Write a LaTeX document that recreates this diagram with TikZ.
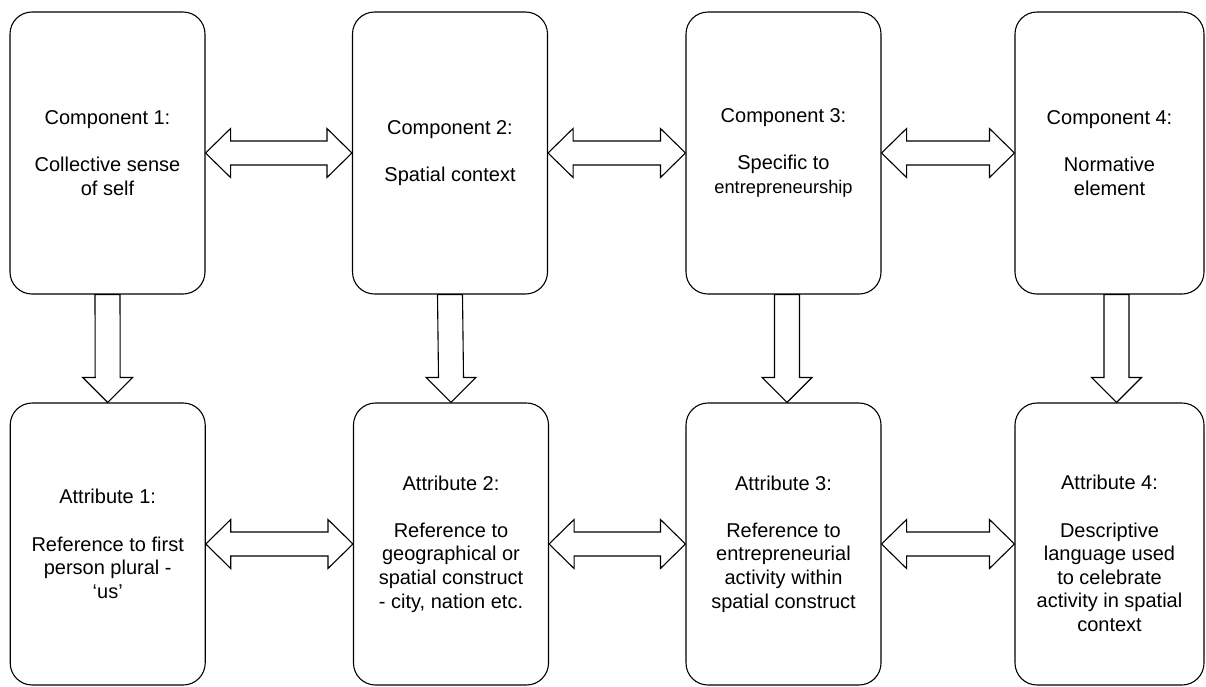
\documentclass[tikz,border=0pt]{standalone}
\usepackage{fontspec}
\setmainfont{Liberation Sans}
\usetikzlibrary{calc}
\tikzset{
  box/.style={draw=black, line width=1.1pt, rounded corners=22pt,
    minimum width=195pt, minimum height=282pt, inner sep=0pt,
    align=center, text=black, font=\fontsize{20}{23.6}\selectfont, fill=white},
  narrowbox/.style={box, minimum width=189pt},
  txtlabel/.style={align=center, text=black, font=\fontsize{20}{23.6}\selectfont, inner sep=0pt},
  bigarrow/.style={draw=black, line width=1.1pt, fill=white, line join=miter},
}
% horizontal double block arrow between two named nodes
\newcommand\hdarrow[2]{%
  \draw[bigarrow] (#1.east) -- ++(25,24.5) -- ++(0,-12.5)
    -- ($(#2.west)+(-25,12)$) -- ++(0,12.5) -- (#2.west)
    -- ++(-25,-24.5) -- ++(0,12.5)
    -- ($(#1.east)+(25,-12)$) -- ++(0,-12.5) -- cycle;}
% vertical block arrow from #1 down to #2, shifted by #3
\newcommand\vdarrow[3]{%
  \draw[bigarrow] ($(#1.south)+(#3-12.5,0)$) -- ($(#2.north)+(#3-12.5,25)$)
    -- ++(-12.5,0) -- ($(#2.north)+(#3,0)$) -- ($(#2.north)+(#3+25,25)$)
    -- ++(-12.5,0) -- ($(#1.south)+(#3+12.5,0)$) -- cycle;}
\begin{document}
\begin{tikzpicture}[x=1pt,y=1pt]
\useasboundingbox (0,0) rectangle (1206,-686);
\fill[white] (0,0) rectangle (1206,-686);

% components
\node[box] (c1) at (107.5,-153) {Component 1:\\[23.6pt]Collective sense\\of self};
\node[box] (c2) at (450,-153) {Component 2:\\[23.6pt]Spatial context};
\node[box] (c3) at (783.5,-153) {Component 3:\\[23.6pt]Specific to\\{\fontsize{18.3}{22}\selectfont entrepreneurship}};
\node[narrowbox] (c4) at (1109.5,-153) {Component 4:\\[23.6pt]Normative\\element};

% attributes
\node[box] (a1) at (107.7,-544) {Attribute 1:\\[23.6pt]Reference to first\\person plural -\\‘us’};
\node[box] (a2) at (451,-544) {Attribute 2:\\[23.6pt]Reference to\\geographical or\\spatial construct\\- city, nation etc.};
\node[box] (a3) at (783.5,-544) {Attribute 3:\\[23.6pt]Reference to\\entrepreneurial\\activity within\\spatial construct};
\node[narrowbox, label={[txtlabel, yshift=-9.5pt]center:{Attribute 4:\\[23.6pt]Descriptive\\language used\\to celebrate\\activity in spatial\\context}}] (a4) at (1109.5,-544) {};

% horizontal double arrows
\hdarrow{c1}{c2}
\hdarrow{c2}{c3}
\hdarrow{c3}{c4}
\hdarrow{a1}{a2}
\hdarrow{a2}{a3}
\hdarrow{a3}{a4}

% vertical arrows
\vdarrow{c1}{a1}{0}
\vdarrow{c2}{a2}{0}
\vdarrow{c3}{a3}{3.5}
\vdarrow{c4}{a4}{7}
\end{tikzpicture}
\end{document}
